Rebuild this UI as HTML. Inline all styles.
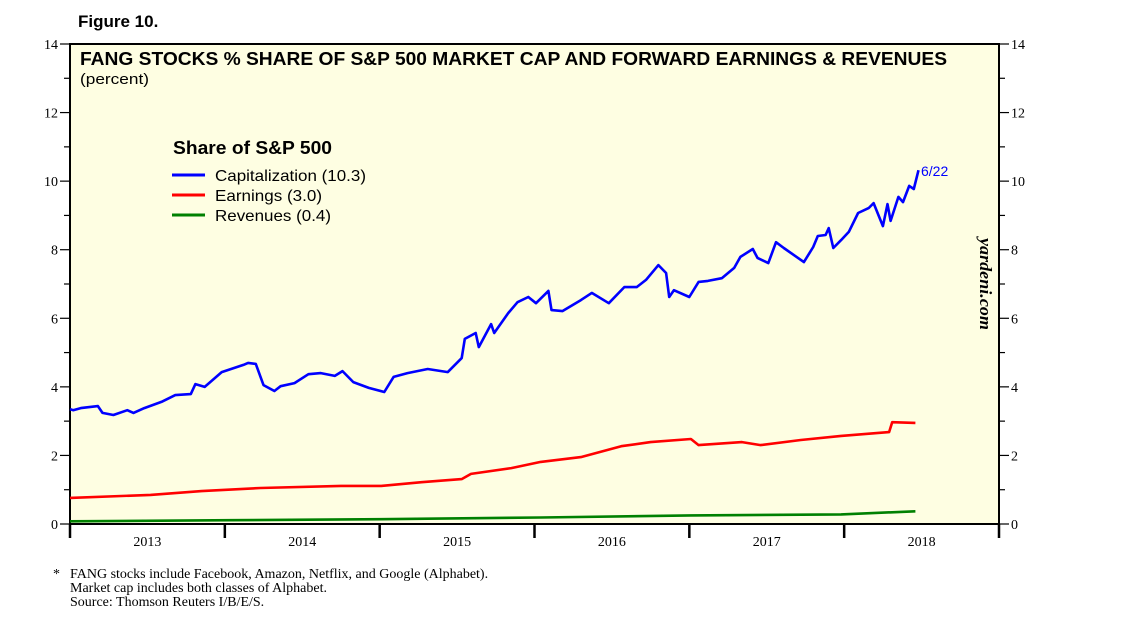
<!DOCTYPE html>
<html><head><meta charset="utf-8"><style>
body{margin:0;background:#fff;width:1138px;height:630px;overflow:hidden}
svg{display:block}
</style></head><body>
<svg id="chart" width="1138" height="630" xmlns="http://www.w3.org/2000/svg">
<text x="78" y="27" font-family="Liberation Sans, sans-serif" font-weight="bold" font-size="17">Figure 10.</text>
<rect x="70" y="44" width="929" height="480" fill="#fefee2" stroke="#000" stroke-width="2"/>
<g id="axes"></g>
<g id="series"></g>
<text x="80" y="65" textLength="867" lengthAdjust="spacingAndGlyphs" font-family="Liberation Sans, sans-serif" font-weight="bold" font-size="18">FANG STOCKS % SHARE OF S&amp;P 500 MARKET CAP AND FORWARD EARNINGS &amp; REVENUES</text>
<text x="80" y="84" textLength="69" lengthAdjust="spacingAndGlyphs" font-family="Liberation Sans, sans-serif" font-size="15">(percent)</text>
<g font-family="Liberation Sans, sans-serif">
<text x="173" y="154" textLength="159" lengthAdjust="spacingAndGlyphs" font-weight="bold" font-size="18">Share of S&amp;P 500</text>
<line x1="172" y1="175" x2="205" y2="175" stroke="#0000ff" stroke-width="3"/>
<text x="215" y="181" textLength="151" lengthAdjust="spacingAndGlyphs" font-size="16">Capitalization (10.3)</text>
<line x1="172" y1="195" x2="205" y2="195" stroke="#ff0000" stroke-width="3"/>
<text x="215" y="201" textLength="107" lengthAdjust="spacingAndGlyphs" font-size="16">Earnings (3.0)</text>
<line x1="172" y1="215" x2="205" y2="215" stroke="#008000" stroke-width="3"/>
<text x="215" y="221" textLength="116" lengthAdjust="spacingAndGlyphs" font-size="16">Revenues (0.4)</text>
</g>
<text x="921" y="176" font-family="Liberation Sans, sans-serif" font-size="14" fill="#0000ff">6/22</text>
<text transform="translate(980,238) rotate(90)" textLength="92" lengthAdjust="spacingAndGlyphs" font-family="Liberation Serif, serif" font-style="italic" font-weight="bold" font-size="17">yardeni.com</text>
<g font-family="Liberation Serif, serif" font-size="14">
<text x="53" y="578">*</text>
<text x="70" y="578">FANG stocks include Facebook, Amazon, Netflix, and Google (Alphabet).</text>
<text x="70" y="592">Market cap includes both classes of Alphabet.</text>
<text x="70" y="606">Source: Thomson Reuters I/B/E/S.</text>
</g>
</svg>
<script>
const capYears=[2013.00,2013.02,2013.07,2013.18,2013.21,2013.28,2013.37,2013.41,2013.48,2013.59,2013.68,2013.78,2013.81,2013.87,2013.98,2014.12,2014.15,2014.20,2014.25,2014.32,2014.36,2014.45,2014.54,2014.62,2014.71,2014.76,2014.83,2014.93,2015.03,2015.09,2015.18,2015.31,2015.44,2015.53,2015.55,2015.62,2015.64,2015.72,2015.74,2015.83,2015.89,2015.96,2016.01,2016.09,2016.11,2016.18,2016.30,2016.37,2016.48,2016.58,2016.66,2016.72,2016.80,2016.85,2016.87,2016.90,2017.00,2017.06,2017.12,2017.21,2017.29,2017.33,2017.41,2017.44,2017.51,2017.56,2017.61,2017.74,2017.80,2017.83,2017.88,2017.90,2017.93,2017.98,2018.03,2018.09,2018.16,2018.19,2018.25,2018.28,2018.30,2018.35,2018.38,2018.42,2018.45,2018.48];
const capValues=[3.35,3.32,3.38,3.44,3.24,3.18,3.32,3.24,3.38,3.56,3.76,3.79,4.08,4.00,4.43,4.64,4.70,4.67,4.05,3.88,4.02,4.11,4.37,4.40,4.32,4.46,4.14,3.97,3.85,4.29,4.40,4.52,4.43,4.84,5.40,5.57,5.16,5.83,5.57,6.15,6.47,6.62,6.44,6.80,6.24,6.21,6.53,6.74,6.44,6.91,6.91,7.12,7.55,7.32,6.62,6.82,6.62,7.06,7.09,7.17,7.47,7.79,8.02,7.76,7.61,8.22,8.05,7.64,8.08,8.40,8.43,8.63,8.05,8.28,8.52,9.07,9.22,9.36,8.69,9.33,8.84,9.54,9.39,9.86,9.77,10.32];
const earnYears=[2013.00,2013.52,2013.85,2014.23,2014.75,2015.01,2015.27,2015.53,2015.59,2015.85,2016.04,2016.30,2016.56,2016.75,2017.01,2017.06,2017.34,2017.46,2017.72,2017.98,2018.29,2018.31,2018.46];
const earnValues=[0.76,0.85,0.96,1.05,1.11,1.11,1.22,1.31,1.46,1.63,1.81,1.95,2.27,2.39,2.48,2.30,2.39,2.30,2.45,2.57,2.68,2.97,2.95];
const revYears=[2013.00,2014.04,2015.01,2016.04,2017.01,2017.98,2018.46];
const revValues=[0.08,0.11,0.14,0.19,0.25,0.28,0.37];
const yTicks=[0,2,4,6,8,10,12,14];
const xYears=[2013,2014,2015,2016,2017,2018];

const NS='http://www.w3.org/2000/svg';
const X0=70,X1=999,Y0=524,Y1=44;
const xs=y=>X0+(y-2013)/6*(X1-X0);
const ys=v=>Y0-v/14*(Y0-Y1);
function mk(tag,attrs,parent,txt){const e=document.createElementNS(NS,tag);for(const k in attrs)e.setAttribute(k,attrs[k]);if(txt!==undefined)e.textContent=txt;parent.appendChild(e);return e;}
const axes=document.getElementById('axes');
for(let v=0;v<=14;v++){
  const major=v%2===0;const len=major?10:6;
  let t=mk('line',{x1:X0-len,x2:X0,y1:ys(v),y2:ys(v),stroke:'#000','stroke-width':1.2},axes);
  
  
  t=mk('line',{x1:X1,x2:X1+len,y1:ys(v),y2:ys(v),stroke:'#000','stroke-width':1.2},axes);
  
  
}
yTicks.forEach(v=>{
  let l=mk('text',{x:X0-12,y:ys(v)+5,'text-anchor':'end','font-family':'Liberation Serif, serif','font-size':14},axes,String(v));
  
  
  l=mk('text',{x:X1+12,y:ys(v)+5,'font-family':'Liberation Serif, serif','font-size':14},axes,String(v));
  
  
});
for(let y=2013;y<=2019;y++){
  const t=mk('line',{x1:xs(y),x2:xs(y),y1:Y0,y2:Y0+14,stroke:'#000','stroke-width':2.5},axes);
  
  
}
xYears.forEach(y=>{
  const l=mk('text',{x:xs(y+0.5),y:Y0+22,'text-anchor':'middle','font-family':'Liberation Serif, serif','font-size':14},axes,String(y));
  
  
});
const ser=document.getElementById('series');
function line(xa,va,color,name){
  const d=xa.map((x,i)=>(i?'L':'M')+xs(x).toFixed(1)+','+ys(va[i]).toFixed(1)).join(' ');
  const p=mk('path',{d:d,fill:'none',stroke:color,'stroke-width':2.6,'stroke-linejoin':'round'},ser);
  
  
}
line(revYears,revValues,'#008000','revenues-line');
line(earnYears,earnValues,'#ff0000','earnings-line');
line(capYears,capValues,'#0000ff','capitalization-line');
</script>
</body></html>
